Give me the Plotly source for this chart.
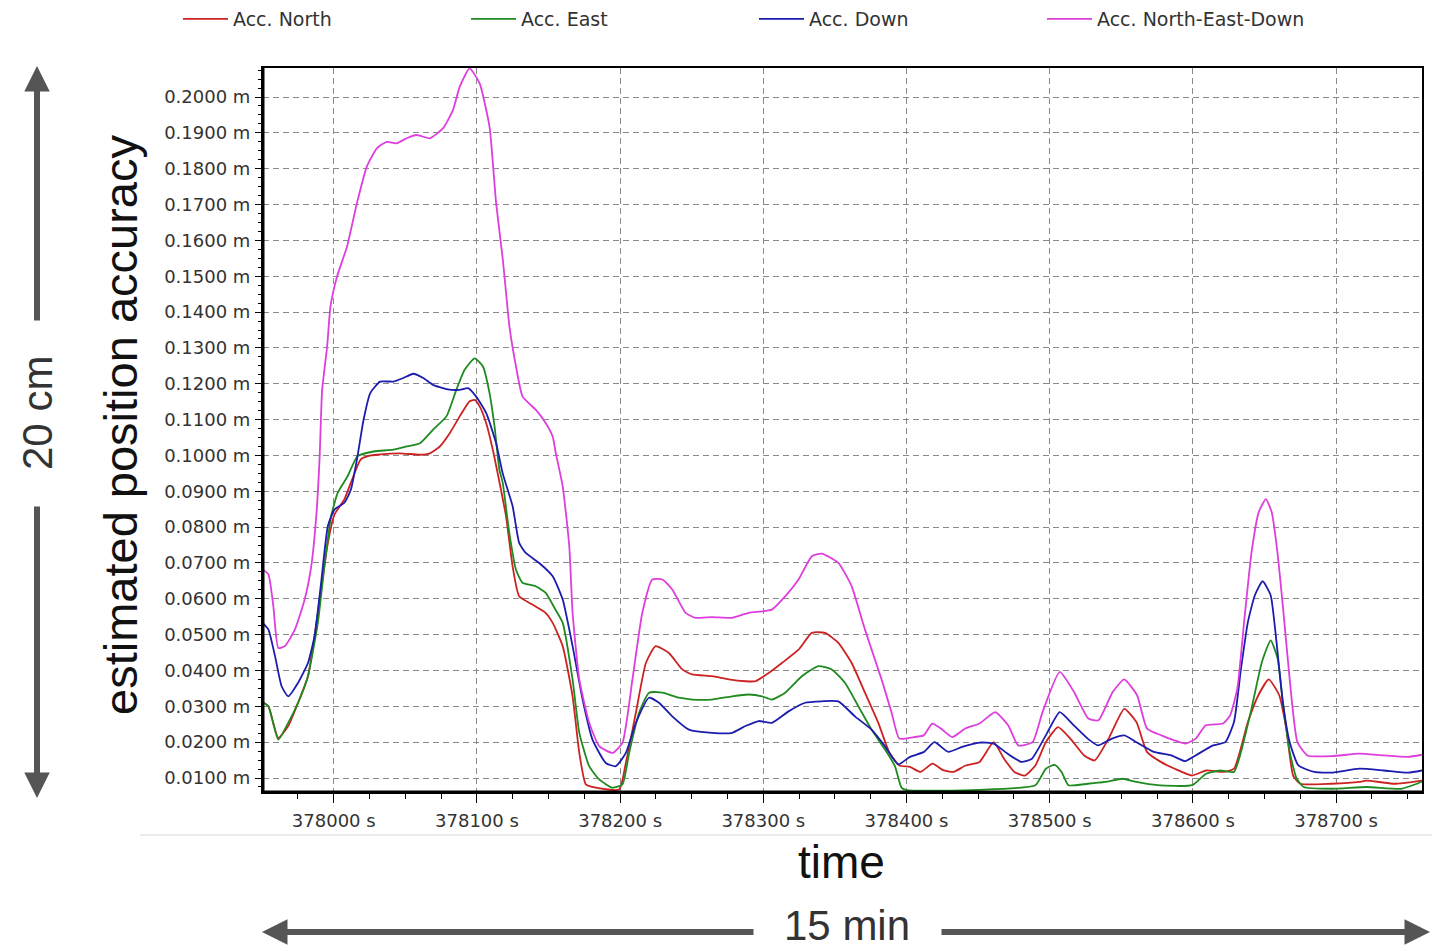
import plotly.graph_objects as go

# ---- data (time in s, accuracy in m) ----
NORTH = [
    (377951, 0.0310), (377954.4, 0.0300), (377961.3, 0.0212), (377968.2, 0.0245), (377975.1, 0.0310),
    (377982, 0.0384), (377986.6, 0.0496), (377991.2, 0.0626), (377995.9, 0.0756), (378000.5, 0.0835),
    (378007.4, 0.0877), (378012, 0.0924), (378018.9, 0.0989), (378025.8, 0.1000), (378030, 0.1002),
    (378046.3, 0.1006), (378060.2, 0.1002), (378067.1, 0.1006), (378074.1, 0.1025), (378081, 0.1062),
    (378088, 0.1109), (378094.9, 0.1151), (378098.4, 0.1155), (378101.9, 0.1137), (378106.5, 0.1090),
    (378111.1, 0.1016), (378114.5, 0.0950), (378120.3, 0.0831), (378124.9, 0.0691), (378129.5, 0.0607),
    (378138.7, 0.0584), (378147.9, 0.0561), (378152.9, 0.0533), (378159.9, 0.0468), (378166.8, 0.0328),
    (378171.5, 0.0170), (378176.1, 0.0082), (378183.1, 0.0073), (378199.3, 0.0068), (378204, 0.0142),
    (378211, 0.0282), (378218, 0.0421), (378224.8, 0.0468), (378234.1, 0.0449), (378243.4, 0.0403),
    (378250.3, 0.0389), (378264.3, 0.0384), (378275.9, 0.0375), (378287.5, 0.0370), (378294.4, 0.0370),
    (378303.7, 0.0393), (378313, 0.0421), (378324.6, 0.0458), (378333.9, 0.0505), (378343.2, 0.0505),
    (378352.4, 0.0477), (378361.7, 0.0421), (378371, 0.0338), (378380.3, 0.0254), (378387.8, 0.0173),
    (378395, 0.0135), (378402.4, 0.0131), (378409.7, 0.0117), (378418.2, 0.0140), (378425.5, 0.0122),
    (378432.8, 0.0117), (378441.4, 0.0135), (378451, 0.0145), (378460.8, 0.0200), (378468.1, 0.0154),
    (378475.4, 0.0117), (378482.7, 0.0107), (378490, 0.0135), (378497.3, 0.0200), (378505.8, 0.0242),
    (378514.4, 0.0210), (378524.1, 0.0163), (378531.4, 0.0149), (378541.1, 0.0210), (378552.1, 0.0293),
    (378560.6, 0.0256), (378567.9, 0.0173), (378577.6, 0.0145), (378587.3, 0.0126), (378599.5, 0.0107),
    (378609.2, 0.0121), (378621.4, 0.0117), (378628.7, 0.0126), (378638.4, 0.0256), (378645.7, 0.0331),
    (378653, 0.0375), (378660.3, 0.0331), (378665.2, 0.0238), (378670, 0.0107), (378675, 0.0084),
    (378696.8, 0.0084), (378716.3, 0.0089), (378721.2, 0.0093), (378740.6, 0.0084), (378760, 0.0093),
]

EAST = [
    (377951, 0.0310), (377954.4, 0.0300), (377961.3, 0.0207), (377968.2, 0.0254), (377975.1, 0.0310),
    (377982, 0.0384), (377988.9, 0.0533), (377993.5, 0.0691), (377998.2, 0.0831), (378002.8, 0.0896),
    (378009.7, 0.0942), (378016.6, 0.0998), (378027.8, 0.1011), (378041.7, 0.1016), (378050.9, 0.1025),
    (378060.2, 0.1034), (378069.4, 0.1072), (378078.7, 0.1109), (378085.6, 0.1183), (378091.4, 0.1239),
    (378098.4, 0.1271), (378104.2, 0.1248), (378108.8, 0.1174), (378112.3, 0.1081), (378115.7, 0.0960),
    (378118, 0.0924), (378122.6, 0.0784), (378127.2, 0.0682), (378131.8, 0.0645), (378141, 0.0635),
    (378147.9, 0.0617), (378154.8, 0.0570), (378159.9, 0.0533), (378166.8, 0.0375), (378171.5, 0.0226),
    (378178.4, 0.0133), (378185.4, 0.0096), (378194.7, 0.0073), (378201.6, 0.0082), (378206.3, 0.0170),
    (378213.2, 0.0282), (378220.2, 0.0338), (378229.5, 0.0338), (378241.1, 0.0324), (378250.3, 0.0319),
    (378264.3, 0.0319), (378278.2, 0.0328), (378289.8, 0.0333), (378299.1, 0.0328), (378306, 0.0319),
    (378315.3, 0.0338), (378326.9, 0.0384), (378338.5, 0.0412), (378347.8, 0.0403), (378357.1, 0.0365),
    (378366.4, 0.0300), (378375.6, 0.0235), (378384.9, 0.0180), (378391.9, 0.0133), (378396.5, 0.0073),
    (378400, 0.0066), (378450, 0.0067), (378490, 0.0080), (378497.3, 0.0126), (378503.4, 0.0137),
    (378508.3, 0.0117), (378513.1, 0.0080), (378526.5, 0.0084), (378538.7, 0.0089), (378550.9, 0.0098),
    (378560.6, 0.0089), (378575.2, 0.0080), (378599.5, 0.0080), (378609.2, 0.0112), (378619, 0.0121),
    (378628.7, 0.0117), (378633.6, 0.0173), (378640.9, 0.0293), (378648.2, 0.0424), (378654.3, 0.0484),
    (378659.2, 0.0433), (378662.8, 0.0312), (378667.6, 0.0173), (378672.5, 0.0098), (378677.4, 0.0075),
    (378696.8, 0.0070), (378721.2, 0.0075), (378745.5, 0.0070), (378756.4, 0.0084), (378760, 0.0090),
]

DOWN = [
    (377951, 0.0530), (377954.4, 0.0514), (377959, 0.0440), (377963.6, 0.0356), (377968.2, 0.0328),
    (377975.1, 0.0366), (377982, 0.0421), (377986.6, 0.0496), (377991.2, 0.0645), (377995.9, 0.0803),
    (378000.5, 0.0849), (378007.4, 0.0868), (378012, 0.0905), (378016.4, 0.0993), (378020.8, 0.1099),
    (378025.5, 0.1174), (378032.4, 0.1206), (378041.7, 0.1206), (378048.6, 0.1216), (378055.6, 0.1228),
    (378062.5, 0.1216), (378069.4, 0.1197), (378078.7, 0.1185), (378088, 0.1183), (378093.8, 0.1188),
    (378099.5, 0.1164), (378106.5, 0.1118), (378113.4, 0.1034), (378118, 0.0950), (378124.9, 0.0859),
    (378129.5, 0.0756), (378134.1, 0.0728), (378143.5, 0.0700), (378152.9, 0.0663), (378159.9, 0.0598),
    (378166.8, 0.0468), (378173.8, 0.0319), (378180.7, 0.0207), (378190, 0.0142), (378197, 0.0133),
    (378204, 0.0170), (378211, 0.0254), (378220.2, 0.0324), (378227.1, 0.0310), (378236.4, 0.0272),
    (378248, 0.0235), (378264.3, 0.0226), (378278.2, 0.0226), (378287.5, 0.0245), (378296.8, 0.0259),
    (378306, 0.0254), (378317.6, 0.0286), (378329.2, 0.0310), (378340.8, 0.0314), (378352.4, 0.0314),
    (378364, 0.0272), (378375.6, 0.0235), (378384.9, 0.0189), (378394.2, 0.0138), (378402.4, 0.0159),
    (378412.2, 0.0173), (378419.5, 0.0200), (378429.2, 0.0173), (378438.9, 0.0187), (378451, 0.0199),
    (378460.8, 0.0196), (378470.6, 0.0168), (378480.3, 0.0145), (378487.6, 0.0154), (378497.3, 0.0219),
    (378507, 0.0284), (378516.8, 0.0247), (378526.5, 0.0210), (378533.8, 0.0191), (378543.5, 0.0210),
    (378552.1, 0.0219), (378560.6, 0.0200), (378572.7, 0.0173), (378584.9, 0.0163), (378594.6, 0.0147),
    (378601.9, 0.0163), (378614.1, 0.0191), (378622.6, 0.0200), (378628.7, 0.0256), (378633.6, 0.0405),
    (378638.4, 0.0535), (378643.3, 0.0610), (378648.7, 0.0649), (378654.3, 0.0610), (378657.9, 0.0498),
    (378662.8, 0.0312), (378667.6, 0.0200), (378673.7, 0.0135), (378684.7, 0.0117), (378696.8, 0.0115),
    (378716.3, 0.0126), (378733.3, 0.0121), (378750.4, 0.0115), (378760, 0.0121),
]

NED = [
    (377951, 0.0680), (377954.4, 0.0668), (377957.8, 0.0580), (377961.3, 0.0463), (377965.9, 0.0468),
    (377972.8, 0.0514), (377979.7, 0.0598), (377984.3, 0.0691), (377987.8, 0.0831), (377990.1, 0.0990),
    (377991.9, 0.1183), (377995.4, 0.1304), (377997.7, 0.1415), (378002.3, 0.1499), (378009.3, 0.1583),
    (378016.2, 0.1704), (378023.1, 0.1806), (378030.1, 0.1857), (378037, 0.1875), (378044, 0.1871),
    (378050.9, 0.1885), (378057.9, 0.1894), (378067.1, 0.1885), (378076.4, 0.1913), (378083.3, 0.1964),
    (378088, 0.2029), (378094.9, 0.2080), (378101.9, 0.2038), (378108.8, 0.1917), (378113.4, 0.1704),
    (378118.1, 0.1546), (378122.7, 0.1360), (378127.3, 0.1248), (378131.9, 0.1164), (378141.2, 0.1127),
    (378148.1, 0.1090), (378152.9, 0.1053), (378155.1, 0.1006), (378159.9, 0.0914), (378164.5, 0.0746),
    (378166.8, 0.0561), (378171.5, 0.0375), (378178.4, 0.0254), (378185.4, 0.0189), (378194.7, 0.0170),
    (378201.6, 0.0198), (378208.6, 0.0375), (378215.5, 0.0561), (378222.5, 0.0654), (378229.5, 0.0654),
    (378236.4, 0.0626), (378245.7, 0.0561), (378252.7, 0.0547), (378264.3, 0.0549), (378278.2, 0.0547),
    (378289.8, 0.0561), (378306, 0.0570), (378315.3, 0.0607), (378324.6, 0.0654), (378333.9, 0.0719),
    (378340.8, 0.0726), (378352.4, 0.0700), (378361.7, 0.0635), (378371, 0.0514), (378382.6, 0.0375),
    (378389.6, 0.0282), (378395, 0.0210), (378405, 0.0214), (378412, 0.0219), (378418, 0.0252),
    (378424, 0.0238), (378432, 0.0214), (378441, 0.0238), (378451, 0.0252), (378462, 0.0284),
    (378471, 0.0247), (378478, 0.0191), (378488, 0.0200), (378495, 0.0284), (378507, 0.0396),
    (378517, 0.0340), (378527, 0.0266), (378534, 0.0261), (378544, 0.0340), (378552, 0.0375),
    (378561, 0.0331), (378568, 0.0238), (378578, 0.0219), (378587, 0.0205), (378595, 0.0196),
    (378602, 0.0210), (378609, 0.0247), (378621, 0.0252), (378626, 0.0275), (378631, 0.0349),
    (378636, 0.0545), (378641, 0.0731), (378646, 0.0842), (378651, 0.0878), (378655, 0.0842),
    (378659, 0.0731), (378663, 0.0573), (378668, 0.0359), (378673, 0.0200), (378680, 0.0163),
    (378697, 0.0161), (378716, 0.0168), (378733, 0.0163), (378750, 0.0159), (378760, 0.0165),
]

SERIES = [
    ("Acc. North", NORTH, "#cc2222"),
    ("Acc. East", EAST, "#1f8a1f"),
    ("Acc. Down", DOWN, "#1c1cae"),
    ("Acc. North-East-Down", NED, "#dd3edd"),
]

X_RANGE = [377950.6, 378760]
Y_RANGE = [0.0061, 0.2081]

W, H = 1432, 951
ML, MR, MT, MB = 263, 10, 68, 159
PW, PH = W - ML - MR, H - MT - MB


def px(x):  # pixel -> paper x
    return (x - ML) / PW


def py(y):  # pixel -> paper y
    return (H - MB - y) / PH


fig = go.Figure()
for name, pts, col in SERIES:
    t = [p[0] for p in pts]
    v = [p[1] for p in pts]
    fig.add_trace(go.Scatter(x=t, y=v, mode="lines", name=name,
                             line=dict(color=col, width=1.8, shape="spline", smoothing=0.5)))

tickfont = dict(family="DejaVu Sans", size=18, color="#333333")
fig.update_xaxes(
    range=X_RANGE, tick0=378000, dtick=100, tickformat="d", ticksuffix=" s",
    showgrid=True, gridcolor="#8a8a8a", gridwidth=1, griddash="6px,4px",
    ticks="outside", ticklen=9, tickcolor="#000", tickwidth=1,
    minor=dict(dtick=25, tick0=378000, ticks="outside", ticklen=5, tickcolor="#000", showgrid=False),
    showline=True, linecolor="#000", linewidth=2, mirror=True,
    tickfont=tickfont, ticklabelstandoff=2, zeroline=False,
)
fig.update_yaxes(
    range=Y_RANGE, tick0=0, dtick=0.01, tickformat=".4f", ticksuffix=" m",
    showgrid=True, gridcolor="#8a8a8a", gridwidth=1, griddash="6px,4px",
    ticks="outside", ticklen=6, tickcolor="#000", tickwidth=1,
    minor=dict(dtick=0.0025, ticks="outside", ticklen=3, tickcolor="#000", showgrid=False),
    showline=True, linecolor="#000", linewidth=2, mirror=True,
    tickfont=tickfont, ticklabelstandoff=1, zeroline=False,
)

arrow_col = "#555555"
annotations = [
    # vertical "20 cm" arrows
    dict(x=px(37), y=py(66), ax=0, ay=256, showarrow=True, arrowhead=2, arrowsize=0.85,
         arrowwidth=6, arrowcolor=arrow_col, text="", xref="paper", yref="paper"),
    dict(x=px(37), y=py(798), ax=0, ay=-293, showarrow=True, arrowhead=2, arrowsize=0.85,
         arrowwidth=6, arrowcolor=arrow_col, text="", xref="paper", yref="paper"),
    # horizontal "15 min" arrows
    dict(x=px(262), y=py(932), ax=493, ay=0, showarrow=True, arrowhead=2, arrowsize=0.85,
         arrowwidth=6, arrowcolor=arrow_col, text="", xref="paper", yref="paper"),
    dict(x=px(1430), y=py(932), ax=-490, ay=0, showarrow=True, arrowhead=2, arrowsize=0.85,
         arrowwidth=6, arrowcolor=arrow_col, text="", xref="paper", yref="paper"),
    dict(x=px(37), y=py(413), text="20 cm", showarrow=False, textangle=-90,
         font=dict(family="Liberation Sans", size=42, color="#333333"),
         xref="paper", yref="paper", xanchor="center", yanchor="middle"),
    dict(x=px(120), y=py(425), text="estimated position accuracy", showarrow=False, textangle=-90,
         font=dict(family="Liberation Sans", size=47, color="#111111"),
         xref="paper", yref="paper", xanchor="center", yanchor="middle"),
    dict(x=px(841), y=py(862), text="time", showarrow=False,
         font=dict(family="Liberation Sans", size=46, color="#111111"),
         xref="paper", yref="paper", xanchor="center", yanchor="middle"),
    dict(x=px(847), y=py(925), text="15 min", showarrow=False,
         font=dict(family="Liberation Sans", size=42, color="#333333"),
         xref="paper", yref="paper", xanchor="center", yanchor="middle"),
]

shapes = [
    dict(type="line", xref="paper", yref="paper", x0=px(140), x1=px(1432), y0=py(835), y1=py(835),
         line=dict(color="#e4e4e4", width=1.5)),
    dict(type="line", xref="paper", yref="paper", x0=0, x1=0, y0=0, y1=1,
         line=dict(color="#000", width=3)),
    dict(type="line", xref="paper", yref="paper", x0=0, x1=1, y0=0, y1=0,
         line=dict(color="#000", width=3)),
]

fig.update_layout(
    width=W, height=H,
    margin=dict(l=ML, r=MR, t=MT, b=MB, autoexpand=False),
    paper_bgcolor="white", plot_bgcolor="white",
    showlegend=True,
    legend=dict(orientation="h", xref="container", yref="container",
                x=178 / W, xanchor="left", y=1.0, yanchor="top",
                entrywidth=228, entrywidthmode="pixels", itemwidth=45,
                font=dict(family="DejaVu Sans", size=19, color="#333333"),
                bgcolor="rgba(0,0,0,0)", traceorder="normal"),
    annotations=annotations,
    shapes=shapes,
)

fig.write_html("out.html")
